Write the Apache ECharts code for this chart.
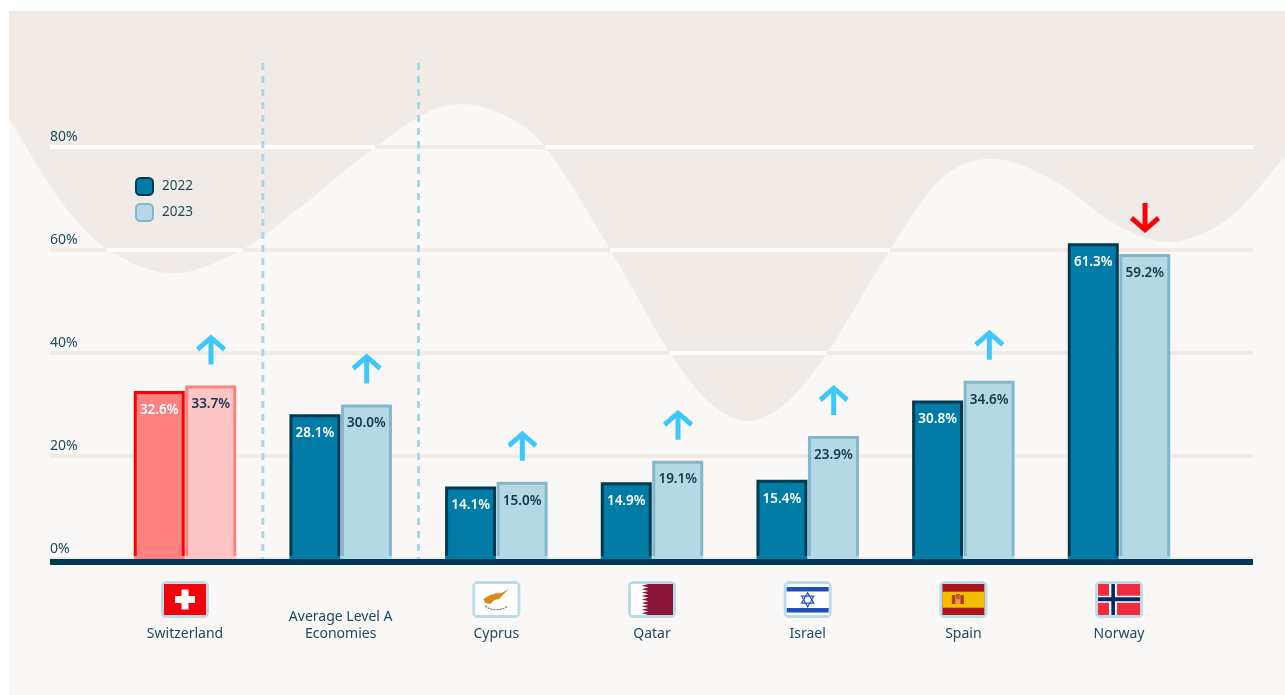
<!DOCTYPE html>
<html>
<head>
<meta charset="utf-8">
<title>Level A economies, 2022 and 2023</title>
<script src="https://cdn.jsdelivr.net/npm/echarts@6/dist/echarts.min.js"></script>
<style>
  html, body { margin: 0; padding: 0; background: #fff; }
  #chart { width: 1285px; height: 695px; }
</style>
</head>
<body>
<div id="chart"></div>
<script>
const categories = ['Switzerland', 'Average Level A\nEconomies', 'Cyprus', 'Qatar', 'Israel', 'Spain', 'Norway'];
const values2022 = [32.6, 28.1, 14.1, 14.9, 15.4, 30.8, 61.3];
const values2023 = [33.7, 30.0, 15.0, 19.1, 23.9, 34.6, 59.2];
const changeDirection = ['up', 'up', 'up', 'up', 'up', 'up', 'down'];
const highlighted = ['Switzerland'];
const yMax = 80;
const yStep = 20;

// Decorative backdrop curve: x in category units, y in percent.
const waveX = [-1.131, -0.803, -0.501, -0.077, 0.373, 0.739, 1.221, 1.574, 1.812, 2.088, 2.313, 2.730, 3.116, 3.372, 3.617, 3.861, 4.124, 4.529, 4.850, 5.171, 5.576, 6.006, 6.347, 6.713, 7.066];
const waveY = [85.6, 69.7, 60.2, 55.5, 60.2, 68.3, 80.0, 87.0, 88.3, 85.6, 80.0, 60.2, 40.0, 30.3, 26.8, 30.3, 40.0, 60.0, 73.6, 77.7, 73.6, 64.5, 61.6, 66.4, 78.1];

// Stretches of each rule that lie above the curve and turn white there.
const whiteRuleValue = [80, 80, 60, 60, 40];
const whiteRuleFrom = [-0.867, 2.313, -0.501, 2.730, 3.116];
const whiteRuleTo = [1.221, 6.861, 0.373, 4.529, 4.124];

// Dashed dividers set the benchmark group apart, between category slots.
const dividerX = [0.5, 1.5];
const dividerTop = 96.3;

const FONT = '"Noto Sans", "Open Sans", sans-serif';
const INK = '#1d4a5c';
const NAVY = '#013a50';

const GRID_TOP = 147, GRID_HEIGHT = 412, BORDER = 3;

const styles = {
  2022: { color: '#007ca6', borderColor: NAVY },
  2023: { color: '#b5d8e5', borderColor: '#84b7cc' }
};
const hotStyles = {
  2022: { color: '#ff8080', borderColor: '#ff0000' },
  2023: { color: '#ffc6c6', borderColor: '#ff8080' }
};

// Bars stand on the baseline, so their outline stops short of the bottom edge.
function outlineColor(style, value) {
  const stop = 1 - BORDER / (value * GRID_HEIGHT / yMax + BORDER);
  return {
    type: 'linear', x: 0, y: 0, x2: 0, y2: 1,
    colorStops: [
      { offset: 0, color: style.borderColor },
      { offset: stop, color: style.borderColor },
      { offset: stop, color: style.color },
      { offset: 1, color: style.color }
    ]
  };
}

function barData(values, year) {
  return values.map((v, i) => {
    const style = highlighted.includes(categories[i]) ? hotStyles[year] : styles[year];
    return { value: v, itemStyle: { color: style.color, borderColor: outlineColor(style, v) } };
  });
}

// Light field below the curve; a Hermite spline keeps the line soft through its points.
function renderBackdrop(params, api) {
  const pts = waveX.map((x, i) => api.coord([x, waveY[i]]));
  const n = pts.length;
  const slope = pts.map((p, i) => {
    const a = pts[Math.max(i - 1, 0)], b = pts[Math.min(i + 1, n - 1)];
    return (b[1] - a[1]) / (b[0] - a[0]);
  });
  let d = `M${pts[0][0]} ${pts[0][1]}`;
  for (let i = 0; i < n - 1; i++) {
    const h = (pts[i + 1][0] - pts[i][0]) / 3;
    d += `C${pts[i][0] + h} ${pts[i][1] + slope[i] * h} ${pts[i + 1][0] - h} ${pts[i + 1][1] - slope[i + 1] * h} ${pts[i + 1][0]} ${pts[i + 1][1]}`;
  }
  const base = api.coord([waveX[n - 1], -26.41])[1];
  d += `L${pts[n - 1][0]} ${base}L${pts[0][0]} ${base}Z`;
  return { type: 'path', shape: { pathData: d }, style: { fill: '#f9f8f6' } };
}

// Small vector flags, drawn around a local origin at the top centre of each badge.
function rect(x, y, width, height, fill) {
  return { type: 'rect', shape: { x, y, width, height }, style: { fill } };
}
function poly(points, fill) {
  return { type: 'polygon', shape: { points }, style: { fill } };
}
const FLAG_L = -21, FLAG_T = 3, FLAG_W = 42, FLAG_H = 31;

const flags = {
  Switzerland() {
    return [
      rect(FLAG_L, FLAG_T, FLAG_W, FLAG_H, '#f5000b'),
      rect(-10, 15, 20, 7, '#fff'),
      rect(-3.5, 8.5, 7, 20, '#fff')
    ];
  },
  Average() { return null; },
  Cyprus() {
    return [
      rect(FLAG_L, FLAG_T, FLAG_W, FLAG_H, '#fff'),
      poly([[-13, 18], [-7, 14.5], [-1, 12.5], [5, 12], [12.5, 8], [6.5, 14], [3, 18], [-2, 19], [-6, 23], [-11, 22]], '#d98a1f'),
      { type: 'bezierCurve', shape: { x1: -11, y1: 25, cpx1: -6, cpy1: 30, cpx2: 6, cpy2: 30, x2: 11, y2: 25 },
        style: { stroke: '#6c7a58', lineWidth: 1.2, lineDash: [2, 1], fill: null } }
    ];
  },
  Qatar() {
    const pts = [[-3.7, FLAG_T]];
    const teeth = 9, h = FLAG_H / teeth;
    for (let i = 0; i < teeth; i++) {
      pts.push([-10.3, FLAG_T + h * (i + 0.5)]);
      pts.push([-3.7, FLAG_T + h * (i + 1)]);
    }
    pts.push([21, FLAG_T + FLAG_H], [21, FLAG_T]);
    return [rect(FLAG_L, FLAG_T, FLAG_W, FLAG_H, '#fff'), poly(pts, '#8a1538')];
  },
  Israel() {
    const cy = 18.7, r = 7, blue = '#1f50b8';
    const tri = (dir) => ({ type: 'polygon',
      shape: { points: [[0, cy - dir * r], [r * 0.87, cy + dir * r / 2], [-r * 0.87, cy + dir * r / 2]] },
      style: { fill: null, stroke: blue, lineWidth: 1.2 } });
    return [
      rect(FLAG_L, FLAG_T, FLAG_W, FLAG_H, '#fff'),
      rect(FLAG_L, 6, FLAG_W, 4.5, blue),
      rect(FLAG_L, 27, FLAG_W, 4.5, blue),
      tri(1), tri(-1)
    ];
  },
  Spain() {
    return [
      rect(FLAG_L, FLAG_T, FLAG_W, FLAG_H, '#aa151b'),
      rect(FLAG_L, 10.8, FLAG_W, 16, '#f1bf00'),
      rect(-11.5, 14, 3.5, 9, '#ad3c22'),
      rect(-7.5, 13, 4, 5.5, '#c8553a'),
      rect(-7.5, 18.5, 4, 5, '#e0a030'),
      rect(-3, 14, 3.5, 9, '#ad3c22')
    ];
  },
  Norway() {
    return [
      rect(FLAG_L, FLAG_T, FLAG_W, FLAG_H, '#ef2b3d'),
      rect(-10, FLAG_T, 8, FLAG_H, '#fff'),
      rect(FLAG_L, 14.7, FLAG_W, 7, '#fff'),
      rect(-7.7, FLAG_T, 3.6, FLAG_H, '#002868'),
      rect(FLAG_L, 16.2, FLAG_W, 4, '#002868')
    ];
  }
};

function renderFlag(params, api) {
  const idx = api.value(0);
  const parts = flags[categories[idx].split(' ')[0]]();
  if (!parts) return null;
  const origin = api.coord([idx, 0]);
  return {
    type: 'group',
    x: origin[0],
    y: origin[1] + 22,
    children: [
      { type: 'rect', shape: { x: -22.5, y: 1.5, width: 45, height: 34, r: 4 },
        style: { fill: '#fff', stroke: '#bcdbe7', lineWidth: 3 } },
      ...parts
    ]
  };
}

const arrowUp = 'path://M15 0 L30 13 L27 17 L17.5 8.5 L17.5 30 L12.5 30 L12.5 8.5 L3 17 L0 13 Z';

const chart = echarts.init(document.getElementById('chart'), null, { renderer: 'canvas' });

chart.setOption({
  animation: false,
  backgroundColor: '#fff',
  textStyle: { fontFamily: FONT },
  legend: {
    data: ['2022', '2023'],
    orient: 'vertical',
    left: 130,
    top: 172,
    itemWidth: 17,
    itemHeight: 17,
    itemGap: 7,
    icon: 'roundRect',
    selectedMode: false,
    textStyle: { fontFamily: FONT, fontSize: 13.5, color: INK, padding: [0, 0, 0, 4] }
  },
  grid: [
    // 0: full-bleed backdrop
    { left: 9, right: 0, top: 11, bottom: 0, show: true, backgroundColor: '#f0ebe7', borderWidth: 0, z: -1 },
    // 1: rules, baseline and y labels
    { left: 50, width: 1203, top: GRID_TOP, height: GRID_HEIGHT },
    // 2: bars and categories
    { left: 107.17, width: 1089.7, top: GRID_TOP, height: GRID_HEIGHT }
  ],
  xAxis: [
    { gridIndex: 0, type: 'value', min: -1.1306, max: 7.0662, show: false },
    { gridIndex: 1, type: 'value', min: 0, max: 1, z: 8,
      offset: 3,
      axisLine: { show: true, onZero: false, lineStyle: { color: NAVY, width: 6, cap: 'butt' } },
      axisTick: { show: false }, axisLabel: { show: false }, splitLine: { show: false } },
    { gridIndex: 2, type: 'category', data: categories, z: 7,
      axisLine: { show: false }, axisTick: { show: false }, splitLine: { show: false },
      axisLabel: { interval: 0, margin: 84, verticalAlign: 'bottom', fontFamily: FONT, fontSize: 14, lineHeight: 17, color: INK, align: 'center' } }
  ],
  yAxis: [
    { gridIndex: 0, type: 'value', min: -26.41, max: 106.41, show: false },
    // Beige rules over the light area; white stretches are added as a series above them
    { gridIndex: 1, type: 'value', min: 0, max: yMax, interval: yStep, z: 3, position: 'left',
      axisLine: { show: false }, axisTick: { show: false },
      axisLabel: { show: true, inside: true, margin: 0, verticalAlign: 'bottom', padding: [0, 0, 3, 0],
        formatter: '{value}%', fontFamily: FONT, fontSize: 14, color: INK },
      splitLine: { show: true, lineStyle: { color: '#f1ebe6', width: 4 } } },
    { gridIndex: 2, type: 'value', min: 0, max: yMax, show: false }
  ],
  series: [
    {
      name: 'backdrop', type: 'custom', xAxisIndex: 0, yAxisIndex: 0, z: 2, silent: true,
      renderItem: renderBackdrop,
      data: [[0, 0]]
    },
    ...whiteRuleValue.map((v, i) => ({
      name: 'rule' + i, type: 'line', xAxisIndex: 0, yAxisIndex: 0, z: 3,
      silent: true, symbol: 'none',
      lineStyle: { color: '#ffffff', width: 4, cap: 'butt' },
      data: [[whiteRuleFrom[i], v], [whiteRuleTo[i], v]]
    })),
    ...dividerX.map((x, i) => ({
      name: 'divider' + i, type: 'line', xAxisIndex: 0, yAxisIndex: 0, z: 4,
      silent: true, symbol: 'none',
      lineStyle: { color: '#b0d6e4', width: 3, type: [7, 6], cap: 'butt' },
      data: [[x, dividerTop], [x, 0]]
    })),
    ...[['2022', values2022, '#ffffff'], ['2023', values2023, '#0f3a4e']].map(([year, vals, labelColor]) => ({
      name: year, type: 'bar', xAxisIndex: 2, yAxisIndex: 2, z: 5,
      barWidth: 51, barGap: '1%',
      itemStyle: { color: styles[year].color, borderColor: styles[year].borderColor, borderWidth: BORDER },
      label: {
        show: true, position: 'insideTop', distance: 12,
        formatter: (p) => vals[p.dataIndex].toFixed(1) + '%',
        fontFamily: FONT, fontSize: 13.5, fontWeight: 600, color: labelColor
      },
      data: barData(vals, year)
    })),
    {
      name: 'change', type: 'scatter', xAxisIndex: 2, yAxisIndex: 2, z: 6,
      silent: true, symbol: arrowUp, symbolSize: [30, 30], symbolOffset: [26, -36],
      data: values2023.map((v, i) => {
        const up = changeDirection[i] === 'up';
        return { value: [i, v], symbolRotate: up ? 0 : 180, itemStyle: { color: up ? '#3cc8ff' : '#ff0000', opacity: 1 } };
      })
    },
    {
      name: 'flags', type: 'custom', xAxisIndex: 2, yAxisIndex: 2, z: 6, silent: true,
      renderItem: renderFlag,
      data: categories.map((c, i) => [i, 0])
    }
  ]
});
</script>
</body>
</html>
